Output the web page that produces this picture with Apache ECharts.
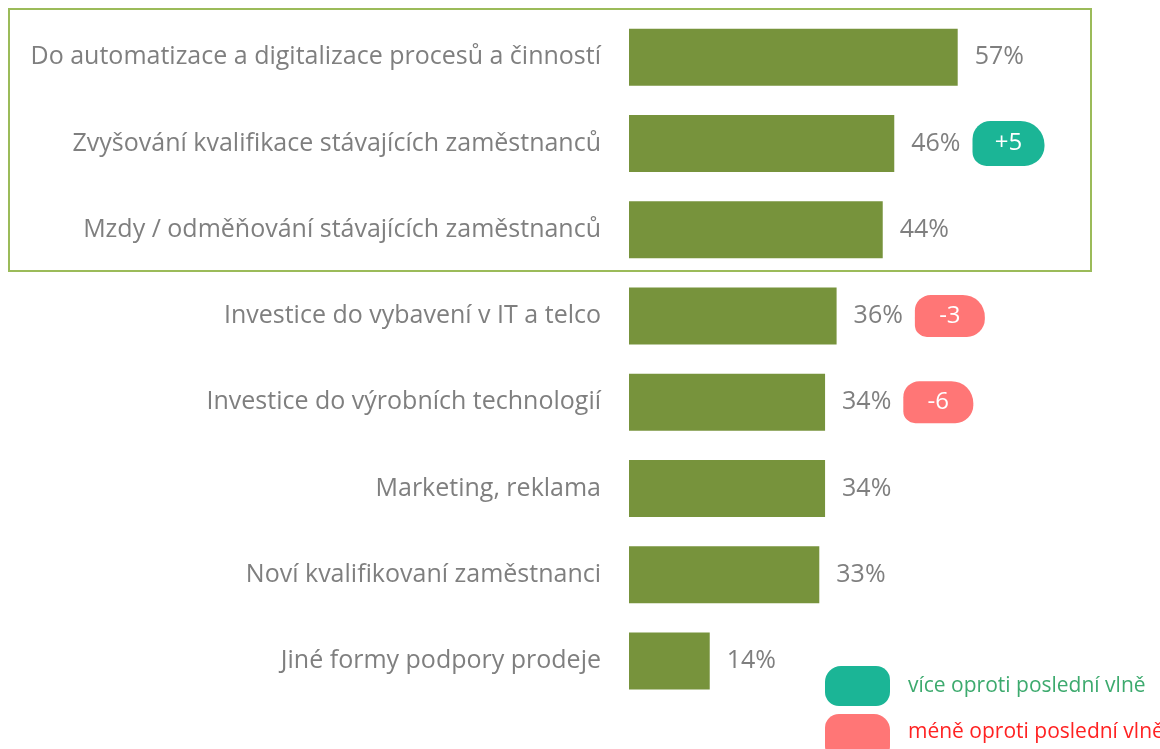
<!doctype html>
<html>
<head>
<meta charset="utf-8">
<title>Oblasti investic</title>
<script src="https://cdn.jsdelivr.net/npm/echarts@6/dist/echarts.min.js"></script>
<style>
  html, body { margin: 0; padding: 0; background: #fff; }
  #main { width: 1160px; height: 749px; }
</style>
</head>
<body>
<div id="main"></div>
<script>
// data
var categories = [
  'Do automatizace a digitalizace procesů a činností',
  'Zvyšování kvalifikace stávajících zaměstnanců',
  'Mzdy / odměňování stávajících zaměstnanců',
  'Investice do vybavení v IT a telco',
  'Investice do výrobních technologií',
  'Marketing, reklama',
  'Noví kvalifikovaní zaměstnanci',
  'Jiné formy podpory prodeje'
];
var values = [57, 46, 44, 36, 34, 34, 33, 14];
// change vs. previous wave (null = no badge)
var changes = [null, 5, null, -3, -6, null, null, null];

var legendTexts = ['více oproti poslední vlně', 'méně oproti poslední vlně'];

var GREEN = '#77933c';
var TEAL = '#1bb596';
var RED = '#ff7676';
var GREY = '#7f7f7f';
var FONT = '"Open Sans", sans-serif';

var chart = echarts.init(document.getElementById('main'));

var barData = values.map(function (v, i) {
  return { value: v, change: changes[i] };
});

chart.setOption({
  animation: false,
  grid: { left: 629, right: 12, top: 14, bottom: 45, containLabel: false },
  xAxis: {
    type: 'value', min: 0, max: 90, show: false
  },
  yAxis: {
    type: 'category',
    inverse: true,
    data: categories,
    axisLine: { show: false },
    axisTick: { show: false },
    splitLine: { show: false },
    axisLabel: { color: GREY, fontSize: 25, fontFamily: FONT, margin: 28 }
  },
  series: [{
    type: 'bar',
    data: barData,
    barWidth: 57,
    itemStyle: { color: GREEN },
    label: {
      show: true,
      position: 'right',
      distance: 17,
      fontFamily: FONT,
      formatter: function (p) {
        var c = p.data.change;
        var s = '{v|' + p.value + '%}';
        if (c != null) {
          s += '{gap|}' + (c > 0 ? '{up|+' + c + '}' : '{down|' + c + '}');
        }
        return s;
      },
      rich: {
        v: { color: GREY, fontSize: 25, fontFamily: FONT },
        gap: { width: 12 },
        up: {
          color: '#fff', fontSize: 24, fontFamily: FONT, align: 'center',
          backgroundColor: TEAL, width: 72, height: 45,
          borderRadius: [18, 24, 20, 14]
        },
        down: {
          color: '#fff', fontSize: 24, fontFamily: FONT, align: 'center',
          backgroundColor: RED, width: 70, height: 42,
          borderRadius: [16, 22, 18, 12]
        }
      }
    }
  }],
  graphic: [
    {
      type: 'rect',
      shape: { x: 9, y: 9, width: 1082, height: 262 },
      style: { fill: 'none', stroke: '#9bbb59', lineWidth: 2 },
      z: 10
    },
    {
      type: 'rect',
      shape: { x: 825, y: 666, width: 65, height: 40, r: [16, 14, 14, 14] },
      style: { fill: TEAL }
    },
    {
      type: 'text',
      x: 908, y: 686,
      style: { text: legendTexts[0], fill: '#3daa6e', fontSize: 21, fontFamily: FONT, verticalAlign: 'middle' }
    },
    {
      type: 'rect',
      shape: { x: 825, y: 714, width: 65, height: 46, r: [14, 16, 14, 14] },
      style: { fill: RED }
    },
    {
      type: 'text',
      x: 908, y: 732,
      style: { text: legendTexts[1], fill: '#ff2222', fontSize: 21, fontFamily: FONT, verticalAlign: 'middle' }
    }
  ]
});
</script>
</body>
</html>
